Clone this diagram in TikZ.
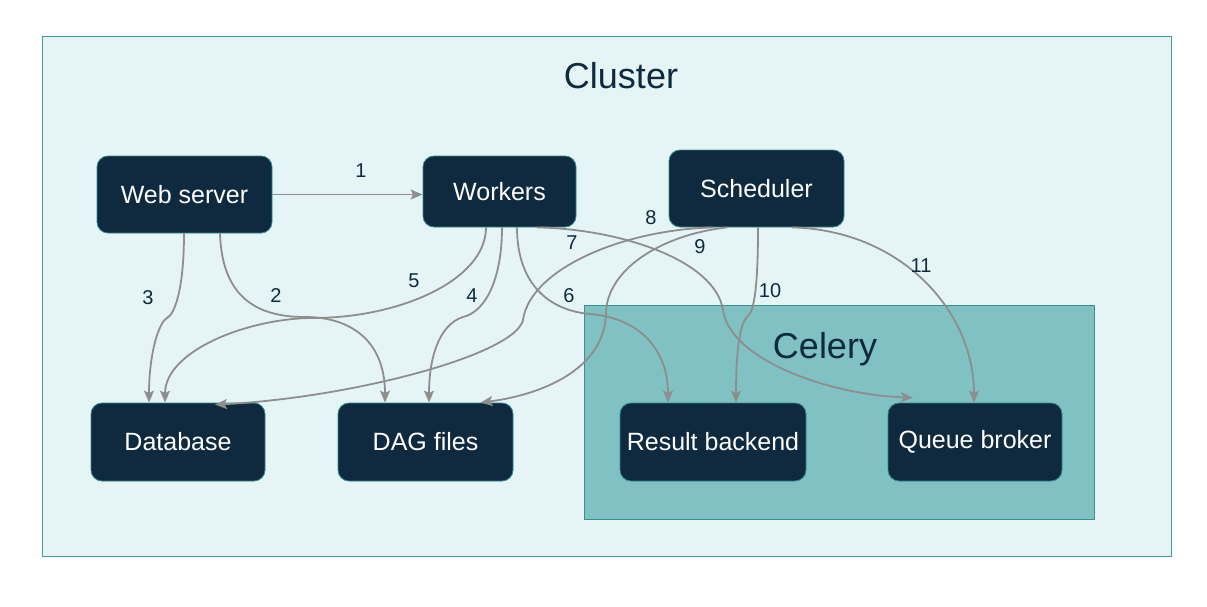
\documentclass[tikz,border=0pt]{standalone}
\usepackage{fontspec}
\setmainfont{Liberation Sans}
\usetikzlibrary{arrows.meta,calc}
\definecolor{clfill}{HTML}{E5F5F5}
\definecolor{clborder}{HTML}{3F9A9A}
\definecolor{celfill}{HTML}{80C1C4}
\definecolor{celborder}{HTML}{3A9090}
\definecolor{navy}{HTML}{0F2A3F}
\definecolor{nodeborder}{HTML}{2E8A8E}
\definecolor{edgegray}{HTML}{8E8E8E}
\begin{document}
\begin{tikzpicture}[x=1pt,y=-1pt,
  box/.style={draw=nodeborder, line width=0.8pt, fill=navy, rounded corners=11pt, text=white, font=\fontsize{25}{29}\selectfont, inner sep=0pt},
  conn/.style={draw=edgegray, line width=1.8pt, -{Stealth[length=12pt,width=10pt,inset=2.5pt]}},
  lab/.style={text=navy, font=\fontsize{20}{24}\selectfont, inner sep=0pt},
  titletext/.style={text=navy, font=\fontsize{36}{40}\selectfont, inner sep=0pt, anchor=base}]
\useasboundingbox (0,0) rectangle (1207,607);
\fill[white] (0,0) rectangle (1207,607);
\node[draw=clborder, fill=clfill, line width=1pt, minimum width=1129pt, minimum height=519pt, inner sep=0pt] (clusterbox) at (606.5,296.5) {};
\node[titletext] (cluster) at (621,89) {Cluster};
\node[draw=celborder, fill=celfill, line width=1pt, minimum width=510pt, minimum height=214pt, inner sep=0pt] (celerybox) at (839,412) {};
\node[titletext] (celery) at (825,358) {Celery};

\node[box, minimum width=175pt, minimum height=77pt] (ws) at (184.5,194.5) {Web server};
\node[box, minimum width=153pt, minimum height=71pt] (wk) at (499.5,191.5) {\raisebox{-3pt}{Workers}};
\node[box, minimum width=175pt, minimum height=77pt] (sc) at (756.5,188.5) {Scheduler};
\node[box, minimum width=174pt, minimum height=78pt] (db) at (178,442) {Database};
\node[box, minimum width=175pt, minimum height=78pt] (dag) at (425.5,442) {DAG files};
\node[box, minimum width=186pt, minimum height=78pt] (rb) at (713,442) {Result backend};
\node[box, minimum width=174pt, minimum height=78pt] (qb) at (975,442) {Queue broker};

% 1
\draw[conn] (ws.east) -- (wk.west |- ws.east);
% 3
\draw[conn] ([xshift=-0.5pt]ws.south) .. controls (184,288) and (175,314) .. (167,318) .. controls (159,322) and (149,353) .. ([xshift=-29pt]db.north);
% 2
\draw[conn] ([xshift=35.5pt]ws.south) .. controls (222,300) and (260,317) .. (305,317) .. controls (350,317) and (385,340) .. ([xshift=-40.5pt]dag.north);
% 5
\draw[conn] ([xshift=-13.5pt]wk.south) .. controls (486,280) and (400,318) .. (313,318) .. controls (250,318) and (165,350) .. ([xshift=-13pt]db.north);
% 4
\draw[conn] ([xshift=2.5pt]wk.south) .. controls (502,280) and (485,312) .. (463,317) .. controls (438,325) and (429,360) .. ([xshift=3.5pt]dag.north);
% 6
\draw[conn] ([xshift=17.5pt]wk.south) .. controls (517,280) and (545,310) .. (590,314) .. controls (640,318) and (668,350) .. ([xshift=-45pt]rb.north);
% 7
\draw[conn] ([xshift=37.5pt]wk.south) .. controls (620,229) and (715,260) .. (723,310) .. controls (730,360) and (830,395) .. ([xshift=-62pt,yshift=5pt]qb.north);
% 8
\draw[conn] ([xshift=-43.5pt]sc.south) .. controls (620,230) and (530,270) .. (523,320) .. controls (515,355) and (350,398) .. ([xshift=37pt,yshift=-2pt]db.north);
% 9
\draw[conn] ([xshift=-29.5pt]sc.south) .. controls (660,235) and (607,270) .. (606,313) .. controls (605,370) and (540,395) .. ([xshift=55pt]dag.north);
% 10
\draw[conn] ([xshift=1.5pt]sc.south) .. controls (758,280) and (755,310) .. (748,316) .. controls (740,322) and (736,350) .. ([xshift=23pt]rb.north);
% 11
\draw[conn] ([xshift=35.5pt]sc.south) .. controls (900,230) and (974,310) .. ([xshift=-1pt]qb.north);

\node[lab] (l1) at (361,171) {1};
\node[lab] (l2) at (276,296) {2};
\node[lab] (l3) at (148,298) {3};
\node[lab] (l4) at (472,296) {4};
\node[lab] (l5) at (414,281) {5};
\node[lab] (l6) at (569,296) {6};
\node[lab] (l7) at (572,243) {7};
\node[lab] (l8) at (651,218) {8};
\node[lab] (l9) at (700,247) {9};
\node[lab] (l10) at (770,291) {10};
\node[lab] (l11) at (921,266) {11};
\end{tikzpicture}
\end{document}
